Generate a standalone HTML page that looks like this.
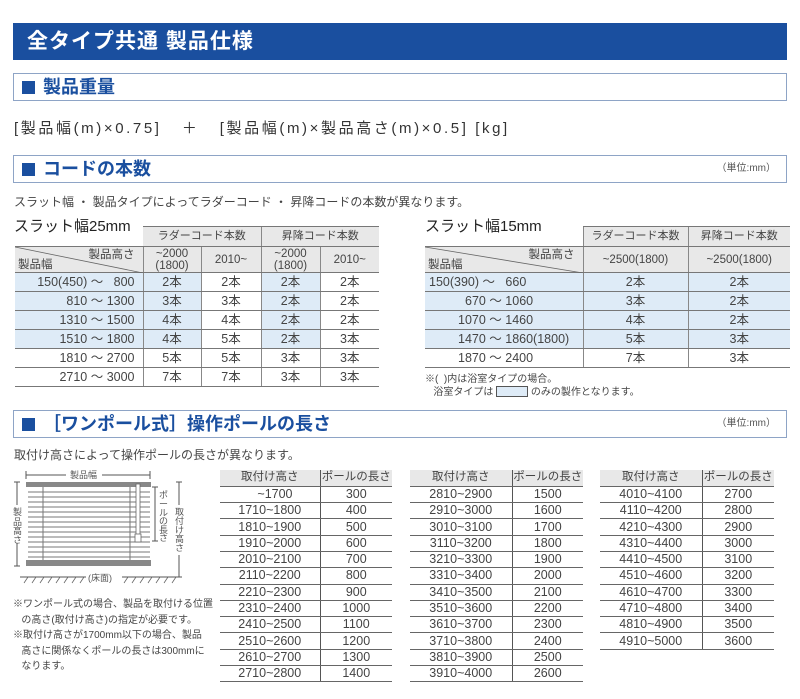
<!DOCTYPE html>
<html><head><meta charset="utf-8">
<style>
*{margin:0;padding:0;box-sizing:border-box}
body{width:800px;height:699px;background:#fff;position:relative;overflow:hidden;font-family:"Liberation Sans","Noto Sans CJK JP",sans-serif;color:#333}
.a{position:absolute}
.banner{left:13px;top:23px;width:774px;height:37px;background:#1a4f9f;color:#fff;font-weight:bold;font-size:21px;line-height:37px;padding-left:14px;letter-spacing:1px}
.sec{left:13px;width:774px;height:28px;border:1px solid #8ea4c6;background:#fff;color:#1a4f9f;font-weight:bold;font-size:18px;line-height:26px;padding-left:8px}
.sec b.sq{display:inline-block;width:13px;height:13px;background:#1a4f9f;margin-right:8px;vertical-align:-1px}
.unit{position:absolute;right:10px;top:0;font-size:10px;font-weight:normal;color:#555}
table{border-collapse:collapse;position:absolute;font-size:12.5px;color:#444}
td{padding:0;text-align:center;white-space:nowrap}
.t1 td{height:19px;line-height:17px;border-bottom:1px solid #777;border-left:1px solid #888}
.t1 td:first-child{border-left:none;text-align:right;padding-right:8px}
.t1 .hd td{background:#e8e8e8;font-size:11px;height:20px}
.t1 .hd2 td{background:#e8e8e8;height:26px;font-size:11.5px;line-height:12px}
.t1 .hd td.emp{background:transparent;border-bottom:1px solid #777}
.bl{background:#deebf7}
.t3 td{height:16.3px;border-bottom:1px solid #666;font-size:12.5px;line-height:15px}
.t3 td+td{border-left:1px solid #555}
.t3 .hd td{background:#e8e8e8;font-size:11.5px;border-bottom:1px solid #666}
.ttl{z-index:5;font-size:15px;color:#222;background:transparent}
</style></head><body>
<div class="a banner">全タイプ共通 製品仕様</div>
<div class="a sec" style="top:73px"><b class="sq"></b>製品重量</div>
<div class="a" style="left:14px;top:117px;font-size:15px;letter-spacing:2.6px;color:#333">[製品幅(m)×0.75]&nbsp;&nbsp;&nbsp;＋&nbsp;&nbsp;&nbsp;[製品幅(m)×製品高さ(m)×0.5] [kg]</div>
<div class="a sec" style="top:155px"><b class="sq"></b>コードの本数<span class="unit">（単位:mm）</span></div>
<div class="a" style="left:14px;top:193px;font-size:12px;color:#444">スラット幅 ・ 製品タイプによってラダーコード ・ 昇降コードの本数が異なります。</div>

<table class="t1" style="left:15px;top:226px;width:364px">
<colgroup><col style="width:128px"><col style="width:58px"><col style="width:60px"><col style="width:59px"><col style="width:59px"></colgroup>
<tr class="hd"><td class="emp"></td><td colspan="2" style="border-top:1px solid #777;border-left:none;text-align:center;padding:0">ラダーコード本数</td><td colspan="2" style="border-top:1px solid #777">昇降コード本数</td></tr>
<tr class="hd2"><td style="position:relative"><svg class="a" style="left:0;top:0" width="128" height="26"><line x1="0" y1="0" x2="128" y2="26" stroke="#666" stroke-width="0.8"/></svg><span class="a" style="right:8px;top:2px">製品高さ</span><span class="a" style="left:3px;top:12px">製品幅</span></td><td>~2000<br>(1800)</td><td>2010~</td><td>~2000<br>(1800)</td><td>2010~</td></tr>
<tr><td class="bl">150(450) ～&nbsp;&nbsp;&nbsp;800</td><td class="bl">2本</td><td>2本</td><td class="bl">2本</td><td>2本</td></tr>
<tr><td class="bl">810 ～ 1300</td><td class="bl">3本</td><td>3本</td><td class="bl">2本</td><td>2本</td></tr>
<tr><td class="bl">1310 ～ 1500</td><td class="bl">4本</td><td>4本</td><td class="bl">2本</td><td>2本</td></tr>
<tr><td class="bl">1510 ～ 1800</td><td class="bl">4本</td><td>5本</td><td class="bl">2本</td><td>3本</td></tr>
<tr><td>1810 ～ 2700</td><td>5本</td><td>5本</td><td>3本</td><td>3本</td></tr>
<tr><td>2710 ～ 3000</td><td>7本</td><td>7本</td><td>3本</td><td>3本</td></tr>
</table>

<table class="t1" style="left:425px;top:226px;width:365px">
<colgroup><col style="width:158px"><col style="width:105px"><col style="width:102px"></colgroup>
<tr class="hd"><td class="emp"></td><td style="border-top:1px solid #777;text-align:center;padding:0">ラダーコード本数</td><td style="border-top:1px solid #777">昇降コード本数</td></tr>
<tr class="hd2"><td style="position:relative"><svg class="a" style="left:0;top:0" width="158" height="26"><line x1="0" y1="0" x2="158" y2="26" stroke="#666" stroke-width="0.8"/></svg><span class="a" style="right:8px;top:2px">製品高さ</span><span class="a" style="left:3px;top:12px">製品幅</span></td><td>~2500(1800)</td><td>~2500(1800)</td></tr>
<tr><td class="bl" style="text-align:left;padding-left:4px">150(390) ～&nbsp;&nbsp;&nbsp;660</td><td class="bl">2本</td><td class="bl">2本</td></tr>
<tr><td class="bl" style="text-align:left;padding-left:40px">670 ～ 1060</td><td class="bl">3本</td><td class="bl">2本</td></tr>
<tr><td class="bl" style="text-align:left;padding-left:33px">1070 ～ 1460</td><td class="bl">4本</td><td class="bl">2本</td></tr>
<tr><td class="bl" style="text-align:left;padding-left:33px">1470 ～ 1860(1800)</td><td class="bl">5本</td><td class="bl">3本</td></tr>
<tr><td style="text-align:left;padding-left:33px">1870 ～ 2400</td><td>7本</td><td>3本</td></tr>
</table>
<div class="a ttl" style="left:14px;top:215px">スラット幅25mm</div>
<div class="a ttl" style="left:425px;top:215px">スラット幅15mm</div>
<div class="a" style="left:425px;top:373px;font-size:10px;color:#444;line-height:13px">※(&nbsp;&nbsp;)内は浴室タイプの場合。<br>&nbsp;&nbsp;&nbsp;浴室タイプは <span style="display:inline-block;width:32px;height:11px;border:1px solid #555;background:#deebf7;vertical-align:-2px"></span> のみの製作となります。</div>

<div class="a sec" style="top:410px"><b class="sq"></b>［ワンポール式］操作ポールの長さ<span class="unit">（単位:mm）</span></div>
<div class="a" style="left:14px;top:446px;font-size:12px;color:#444">取付け高さによって操作ポールの長さが異なります。</div>

<svg class="a" style="left:0;top:460px" width="210" height="130" font-size="9" fill="#555">
<line x1="26" y1="15" x2="150" y2="15" stroke="#555"/><line x1="26" y1="11" x2="26" y2="19" stroke="#555"/><line x1="150" y1="11" x2="150" y2="19" stroke="#555"/>
<rect x="66" y="9" width="36" height="12" fill="#fff"/><text x="70" y="18">製品幅</text>
<rect x="26" y="22" width="125" height="5" fill="#888"/>
<g stroke="#777" stroke-width="1">
<line x1="28" y1="32" x2="150" y2="32"/><line x1="28" y1="37" x2="150" y2="37"/><line x1="28" y1="42" x2="150" y2="42"/><line x1="28" y1="47" x2="150" y2="47"/><line x1="28" y1="52" x2="150" y2="52"/><line x1="28" y1="57" x2="150" y2="57"/><line x1="28" y1="62" x2="150" y2="62"/><line x1="28" y1="67" x2="150" y2="67"/><line x1="28" y1="72" x2="150" y2="72"/><line x1="28" y1="77" x2="150" y2="77"/><line x1="28" y1="82" x2="150" y2="82"/><line x1="28" y1="87" x2="150" y2="87"/><line x1="28" y1="92" x2="150" y2="92"/><line x1="28" y1="97" x2="150" y2="97"/>
<line x1="43" y1="27" x2="43" y2="100"/><line x1="130" y1="27" x2="130" y2="100"/>
</g>
<rect x="26" y="100" width="125" height="6" fill="#888"/>
<rect x="136" y="24" width="4" height="52" fill="#fff" stroke="#666" stroke-width="0.8"/>
<rect x="135" y="74" width="6" height="8" fill="#fff" stroke="#666" stroke-width="0.8"/>
<line x1="17" y1="22" x2="17" y2="106" stroke="#555"/><line x1="14" y1="22" x2="20" y2="22" stroke="#555"/><line x1="14" y1="106" x2="20" y2="106" stroke="#555"/>
<rect x="12" y="45" width="10" height="38" fill="#fff"/><text x="13" y="55">製</text><text x="13" y="65">品</text><text x="13" y="74">高</text><text x="13" y="83">さ</text>
<line x1="155" y1="27" x2="155" y2="81" stroke="#555"/><line x1="152" y1="27" x2="158" y2="27" stroke="#555"/><line x1="152" y1="81" x2="158" y2="81" stroke="#555"/>
<rect x="158" y="30" width="10" height="48" fill="#fff"/><text x="159" y="38">ポ</text><text x="159" y="47">ー</text><text x="159" y="56">ル</text><text x="159" y="64">の</text><text x="159" y="73">長</text><text x="159" y="81">さ</text>
<line x1="179" y1="22" x2="179" y2="117" stroke="#555"/><line x1="176" y1="22" x2="182" y2="22" stroke="#555"/><line x1="174" y1="117" x2="182" y2="117" stroke="#555"/>
<rect x="174" y="45" width="10" height="50" fill="#fff"/><text x="175" y="55">取</text><text x="175" y="64">付</text><text x="175" y="73">け</text><text x="175" y="82">高</text><text x="175" y="91">さ</text>
<line x1="20" y1="117" x2="176" y2="117" stroke="#555"/>
<g stroke="#666" stroke-width="0.8"><path d="M24 123l4-6M32 123l4-6M40 123l4-6M48 123l4-6M56 123l4-6M64 123l4-6M72 123l4-6M80 123l4-6M124 123l4-6M132 123l4-6M140 123l4-6M148 123l4-6M156 123l4-6M164 123l4-6M172 123l4-6"/></g>
<rect x="86" y="112" width="36" height="12" fill="#fff"/><text x="88" y="121">(床面)</text>
</svg>
<div class="a" style="left:13px;top:597px;font-size:10px;color:#444;line-height:15.5px">※ワンポール式の場合、製品を取付ける位置<br>&nbsp;&nbsp;&nbsp;の高さ(取付け高さ)の指定が必要です。<br>※取付け高さが1700mm以下の場合、製品<br>&nbsp;&nbsp;&nbsp;高さに関係なくポールの長さは300mmに<br>&nbsp;&nbsp;&nbsp;なります。</div>

<table class="t3" style="left:220px;top:470px;width:172px">
<colgroup><col style="width:100px"><col style="width:72px"></colgroup>
<tr class="hd"><td>取付け高さ</td><td>ポールの長さ</td></tr>
<tr><td style="text-align:right;padding-right:27px">~1700</td><td>300</td></tr>
<tr><td>1710~1800</td><td>400</td></tr><tr><td>1810~1900</td><td>500</td></tr><tr><td>1910~2000</td><td>600</td></tr><tr><td>2010~2100</td><td>700</td></tr><tr><td>2110~2200</td><td>800</td></tr><tr><td>2210~2300</td><td>900</td></tr><tr><td>2310~2400</td><td>1000</td></tr><tr><td>2410~2500</td><td>1100</td></tr><tr><td>2510~2600</td><td>1200</td></tr><tr><td>2610~2700</td><td>1300</td></tr><tr><td>2710~2800</td><td>1400</td></tr>
</table>
<table class="t3" style="left:410px;top:470px;width:173px">
<colgroup><col style="width:102px"><col style="width:71px"></colgroup>
<tr class="hd"><td>取付け高さ</td><td>ポールの長さ</td></tr>
<tr><td>2810~2900</td><td>1500</td></tr><tr><td>2910~3000</td><td>1600</td></tr><tr><td>3010~3100</td><td>1700</td></tr><tr><td>3110~3200</td><td>1800</td></tr><tr><td>3210~3300</td><td>1900</td></tr><tr><td>3310~3400</td><td>2000</td></tr><tr><td>3410~3500</td><td>2100</td></tr><tr><td>3510~3600</td><td>2200</td></tr><tr><td>3610~3700</td><td>2300</td></tr><tr><td>3710~3800</td><td>2400</td></tr><tr><td>3810~3900</td><td>2500</td></tr><tr><td>3910~4000</td><td>2600</td></tr>
</table>
<table class="t3" style="left:600px;top:470px;width:174px">
<colgroup><col style="width:102px"><col style="width:72px"></colgroup>
<tr class="hd"><td>取付け高さ</td><td>ポールの長さ</td></tr>
<tr><td>4010~4100</td><td>2700</td></tr><tr><td>4110~4200</td><td>2800</td></tr><tr><td>4210~4300</td><td>2900</td></tr><tr><td>4310~4400</td><td>3000</td></tr><tr><td>4410~4500</td><td>3100</td></tr><tr><td>4510~4600</td><td>3200</td></tr><tr><td>4610~4700</td><td>3300</td></tr><tr><td>4710~4800</td><td>3400</td></tr><tr><td>4810~4900</td><td>3500</td></tr><tr><td>4910~5000</td><td>3600</td></tr>
</table>
</body></html>
